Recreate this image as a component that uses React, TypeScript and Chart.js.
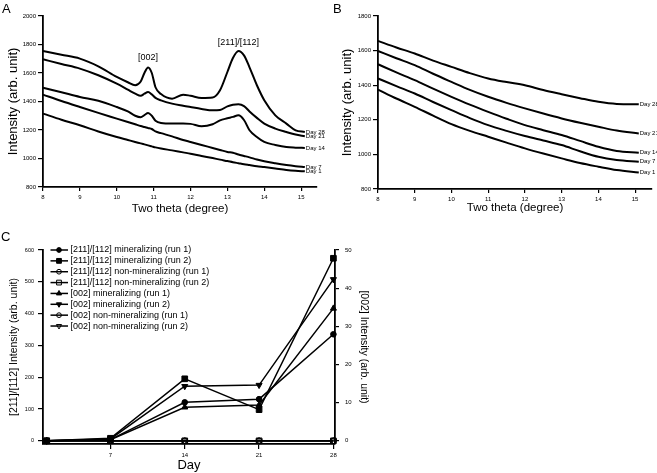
import React, { useEffect, useRef } from 'react';
import { Chart, registerables } from 'chart.js';
import { drawPoint } from 'chart.js/helpers';

Chart.register(...registerables);

const FONT = '"Liberation Sans", Arial, Helvetica, sans-serif';

// ---------- Panel A (mineralizing) ----------
const thetaA = [8, 8.5, 9, 9.5, 10, 10.3, 10.5, 10.65, 10.75, 10.85, 10.95, 11.05, 11.2, 11.5, 11.8, 12.0, 12.3, 12.6, 12.8, 13.0, 13.15, 13.3, 13.45, 13.6, 13.8, 14.0, 14.3, 14.6, 14.85, 15.1];
const aDay28 = [1754, 1728, 1701, 1647, 1572, 1535, 1514, 1540, 1600, 1638, 1600, 1500, 1452, 1420, 1448, 1440, 1425, 1428, 1479, 1607, 1705, 1754, 1724, 1640, 1514, 1409, 1303, 1245, 1198, 1186];
const aDay21 = [1696, 1663, 1631, 1584, 1525, 1483, 1455, 1440, 1455, 1467, 1450, 1425, 1408, 1385, 1370, 1361, 1348, 1338, 1340, 1366, 1377, 1380, 1368, 1330, 1285, 1245, 1210, 1186, 1168, 1156];
const aDay14 = [1497, 1465, 1432, 1405, 1361, 1330, 1300, 1290, 1305, 1319, 1300, 1265, 1249, 1245, 1245, 1243, 1226, 1240, 1268, 1282, 1292, 1303, 1270, 1198, 1151, 1116, 1095, 1080, 1076, 1074];
const aDay7 = [1448, 1403, 1361, 1320, 1280, 1256, 1240, 1228, 1221, 1214, 1207, 1190, 1178, 1155, 1130, 1116, 1095, 1074, 1060, 1046, 1040, 1028, 1018, 1008, 993, 980, 966, 954, 946, 940];
const aDay1 = [1315, 1272, 1233, 1190, 1151, 1130, 1116, 1106, 1099, 1092, 1085, 1078, 1070, 1057, 1043, 1034, 1018, 1003, 992, 982, 974, 967, 960, 954, 946, 940, 930, 920, 914, 910];
const peakLabels = ['[002]', '[211]/[112]'];
const peakTheta = [10.85, 13.3];
const peakLabelIntensity = [1712, 1815];

// ---------- Panel B (non-mineralizing) ----------
const thetaB = [8, 8.5, 9, 9.5, 10, 10.5, 11, 11.5, 12, 12.5, 13, 13.5, 14, 14.5, 15.1];
const bDay28 = [1656, 1618, 1583, 1542, 1506, 1470, 1439, 1418, 1400, 1372, 1348, 1325, 1304, 1292, 1290];
const bDay21 = [1598, 1556, 1516, 1466, 1419, 1373, 1333, 1298, 1266, 1236, 1208, 1183, 1160, 1138, 1121];
const bDay14 = [1521, 1474, 1429, 1380, 1333, 1288, 1246, 1206, 1169, 1140, 1112, 1078, 1044, 1020, 1010];
const bDay7 = [1439, 1395, 1352, 1303, 1256, 1210, 1169, 1136, 1106, 1080, 1054, 1018, 986, 968, 958];
const bDay1 = [1375, 1323, 1275, 1224, 1175, 1136, 1102, 1068, 1035, 1005, 977, 950, 929, 910, 896];

const dayNames = ['Day 28', 'Day 21', 'Day 14', 'Day 7', 'Day 1'];

// tick labels
const thetaTicks = [8, 9, 10, 11, 12, 13, 14, 15];
const aIntensityTicks = [800, 1000, 1200, 1400, 1600, 1800, 2000];
const bIntensityTicks = [800, 1000, 1200, 1400, 1600, 1800];

// ---------- Panel C ----------
const days = [1, 7, 14, 21, 28];
const dayTicks = [7, 14, 21, 28];
const leftTicksC = [0, 100, 200, 300, 400, 500, 600];
const rightTicksC = [0, 10, 20, 30, 40, 50];
const hkMinRun1 = [0, 4, 121, 131, 335];
const hkMinRun2 = [0, 8, 195, 98, 574];
const hkNonRun1 = [0, 0, 0, 0, 0];
const hkNonRun2 = [0, 0, 0, 0, 0];
const c002MinRun1 = [0, 0.3, 8.8, 9.4, 34.7];
const c002MinRun2 = [0, 0.5, 14.3, 14.6, 42.3];
const c002NonRun1 = [0, 0, 0, 0, 0];
const c002NonRun2 = [0, 0, 0, 0, 0];
const cLabels = [
  '[211]/[112] mineralizing (run 1)',
  '[211]/[112] mineralizing (run 2)',
  '[211]/[112] non-mineralizing (run 1)',
  '[211]/[112] non-mineralizing (run 2)',
  '[002] mineralizing (run 1)',
  '[002] mineralizing (run 2)',
  '[002] non-mineralizing (run 1)',
  '[002] non-mineralizing (run 2)',
];

const setTicks = (values: number[]) => (s: any) => {
  s.ticks = values.map((v) => ({ value: v }));
};
const plainLabel = (v: any) => String(v);

const endLabelsPlugin = {
  id: 'endLabels',
  afterDatasetsDraw(chart: any) {
    const ctx = chart.ctx;
    ctx.save();
    ctx.font = `6px ${FONT}`;
    ctx.fillStyle = '#000';
    ctx.textBaseline = 'middle';
    ctx.textAlign = 'left';
    chart.data.datasets.forEach((ds: any, i: number) => {
      const meta = chart.getDatasetMeta(i);
      const last = meta.data[meta.data.length - 1];
      ctx.fillText(ds.label, last.x + 1, last.y);
    });
    ctx.restore();
  },
};

const peakLabelPlugin = {
  id: 'peakLabels',
  afterDatasetsDraw(chart: any) {
    const ctx = chart.ctx;
    const xs = chart.scales.x;
    const ys = chart.scales.y;
    ctx.save();
    ctx.font = `9px ${FONT}`;
    ctx.fillStyle = '#000';
    ctx.textAlign = 'center';
    ctx.textBaseline = 'middle';
    peakLabels.forEach((t, i) => {
      ctx.fillText(t, xs.getPixelForValue(peakTheta[i]), ys.getPixelForValue(peakLabelIntensity[i]));
    });
    ctx.restore();
  },
};

const legendPlugin = {
  id: 'cLegend',
  afterDraw(chart: any) {
    const ctx = chart.ctx;
    const { left, top } = chart.chartArea;
    ctx.save();
    chart.data.datasets.forEach((ds: any, i: number) => {
      const y = top + i * 10.86;
      ctx.strokeStyle = '#000';
      ctx.lineWidth = 1.5;
      ctx.beginPath();
      ctx.moveTo(left + 7.5, y);
      ctx.lineTo(left + 25, y);
      ctx.stroke();
      ctx.fillStyle = ds.pointBackgroundColor;
      ctx.strokeStyle = '#000';
      ctx.lineWidth = 1;
      drawPoint(ctx, { pointStyle: ds.pointStyle, rotation: ds.pointRotation, radius: ds.pointRadius * 0.85, borderWidth: 1 } as any, left + 16, y);
      ctx.fillStyle = '#000';
      ctx.font = `9px ${FONT}`;
      ctx.textBaseline = 'middle';
      ctx.textAlign = 'left';
      ctx.fillText(ds.label, left + 27.5, y);
    });
    ctx.restore();
  },
};

function xrdDatasets(theta: number[], series: number[][]) {
  return series.map((s, k) => ({
    label: dayNames[k],
    data: theta.map((t, i) => ({ x: t, y: s[i] })),
    borderColor: '#000',
    borderWidth: 2,
    pointRadius: 0,
    cubicInterpolationMode: 'monotone',
    fill: false,
    clip: false,
  }));
}

function axisCommon(tickSize: number, tickLength: number, padding: number) {
  return {
    border: { display: true, color: '#000', width: 1.8 },
    grid: { display: true, drawOnChartArea: false, drawTicks: true, tickLength, color: '#000', lineWidth: 1.2 },
    ticks: { color: '#000', font: { family: FONT, size: tickSize }, padding, callback: plainLabel },
  };
}

function xrdOptions(opts: any) {
  const c1 = axisCommon(6, 4, 3);
  const c2 = axisCommon(6, 5, 2);
  return {
    responsive: false,
    animation: false,
    layout: { padding: opts.padding },
    plugins: { legend: { display: false }, tooltip: { enabled: false } },
    scales: {
      x: {
        type: 'linear',
        min: 8,
        max: opts.xMax,
        ...c1,
        ticks: { ...c1.ticks, maxRotation: 0, autoSkip: false },
        afterBuildTicks: setTicks(thetaTicks),
        afterFit: (s: any) => { s.height = opts.xHeight; },
        title: { display: true, text: 'Two theta (degree)', color: '#000', font: { family: FONT, size: 11.5 }, padding: { top: 0, bottom: opts.xTitlePad } },
      },
      y: {
        type: 'linear',
        min: 800,
        max: opts.yMax,
        ...c2,
        ticks: { ...c2.ticks, autoSkip: false },
        afterBuildTicks: setTicks(opts.yTicks),
        afterFit: (s: any) => { s.width = opts.yWidth; },
        title: { display: true, text: 'Intensity (arb. unit)', color: '#000', font: { family: FONT, size: 13 }, padding: { top: opts.yTitlePad, bottom: 0 } },
      },
    },
  };
}

function cDataset(label: string, data: number[], axis: string, style: string, filled: boolean, rotation = 0) {
  return {
    label,
    data: days.map((d, i) => ({ x: d, y: data[i] })),
    yAxisID: axis,
    borderColor: '#000',
    borderWidth: 1.5,
    pointStyle: style,
    pointRotation: rotation,
    pointRadius: style === 'rect' ? 4 : style === 'triangle' ? 3.5 : 2.8,
    pointBackgroundColor: filled ? '#000' : 'rgba(255,255,255,0)',
    pointBorderColor: '#000',
    pointBorderWidth: 1,
    tension: 0,
    fill: false,
    clip: false,
  };
}

export default function App() {
  const refA = useRef<HTMLCanvasElement>(null);
  const refB = useRef<HTMLCanvasElement>(null);
  const refC = useRef<HTMLCanvasElement>(null);

  useEffect(() => {
    const chartA = new Chart(refA.current as HTMLCanvasElement, {
      type: 'line',
      data: { datasets: xrdDatasets(thetaA, [aDay28, aDay21, aDay14, aDay7, aDay1]) as any },
      options: xrdOptions({ padding: { top: 16, right: 13, left: 0, bottom: 0 }, xMax: 15.43, yMax: 2000, yTicks: aIntensityTicks, xHeight: 41, yWidth: 43, xTitlePad: 12, yTitlePad: 6 }) as any,
      plugins: [endLabelsPlugin, peakLabelPlugin],
    });

    const chartB = new Chart(refB.current as HTMLCanvasElement, {
      type: 'line',
      data: { datasets: xrdDatasets(thetaB, [bDay28, bDay21, bDay14, bDay7, bDay1]) as any },
      options: xrdOptions({ padding: { top: 16, right: 5, left: 0, bottom: 0 }, xMax: 15.46, yMax: 1800, yTicks: bIntensityTicks, xHeight: 41, yWidth: 48, xTitlePad: 15.5, yTitlePad: 10 }) as any,
      plugins: [endLabelsPlugin],
    });

    const cx = axisCommon(6, 5, 3);
    const cy = axisCommon(5.5, 5, 4);
    const cy1 = axisCommon(6, 4, 6);
    const chartC = new Chart(refC.current as HTMLCanvasElement, {
      type: 'line',
      data: {
        datasets: [
          cDataset(cLabels[0], hkMinRun1, 'y', 'circle', true),
          cDataset(cLabels[1], hkMinRun2, 'y', 'rect', true),
          cDataset(cLabels[2], hkNonRun1, 'y', 'circle', false),
          cDataset(cLabels[3], hkNonRun2, 'y', 'rect', false),
          cDataset(cLabels[4], c002MinRun1, 'y1', 'triangle', true),
          cDataset(cLabels[5], c002MinRun2, 'y1', 'triangle', true, 180),
          cDataset(cLabels[6], c002NonRun1, 'y1', 'circle', false),
          cDataset(cLabels[7], c002NonRun2, 'y1', 'triangle', false, 180),
        ] as any,
      },
      options: {
        responsive: false,
        animation: false,
        layout: { padding: { top: 20, right: 0, left: 0, bottom: 0 } },
        plugins: { legend: { display: false }, tooltip: { enabled: false } },
        scales: {
          x: {
            type: 'linear',
            min: 0.65,
            max: 28.15,
            ...cx,
            ticks: { ...cx.ticks, maxRotation: 0, autoSkip: false },
            afterBuildTicks: setTicks(dayTicks),
            afterFit: (s: any) => { s.height = 29; },
            title: { display: true, text: 'Day', color: '#000', font: { family: FONT, size: 13 }, padding: { top: 0, bottom: 0 } },
          },
          y: {
            type: 'linear',
            position: 'left',
            min: -10,
            max: 600,
            ...cy,
            ticks: { ...cy.ticks, autoSkip: false },
            afterBuildTicks: setTicks(leftTicksC),
            afterFit: (s: any) => { s.width = 43; },
            title: { display: true, text: '[211]/[112] Intensity (arb. unit)', color: '#000', font: { family: FONT, size: 10.5 }, padding: { top: 7.7, bottom: 0 } },
          },
          y1: {
            type: 'linear',
            position: 'right',
            min: -10 / 12,
            max: 50,
            ...cy1,
            ticks: { ...cy1.ticks, autoSkip: false },
            afterBuildTicks: setTicks(rightTicksC),
            afterFit: (s: any) => { s.width = 45; },
            title: { display: true, text: '[002] Intensity (arb. unit)', color: '#000', font: { family: FONT, size: 10.5 }, padding: { top: 9.7, bottom: 0 } },
          },
        },
      } as any,
      plugins: [legendPlugin],
    });

    return () => {
      chartA.destroy();
      chartB.destroy();
      chartC.destroy();
    };
  }, []);

  const panelLabel = (text: string, left: number, top: number) => (
    <div style={{ position: 'absolute', left, top, fontFamily: FONT, fontSize: 13, lineHeight: '12px', color: '#000' }}>{text}</div>
  );

  return (
    <div style={{ position: 'absolute', left: 0, top: 0, width: 657, height: 473, background: '#fff', overflow: 'hidden' }}>
      <canvas ref={refA} width={330} height={228} style={{ position: 'absolute', left: 0, top: 0 }} />
      <canvas ref={refB} width={327} height={230} style={{ position: 'absolute', left: 330, top: 0 }} />
      <canvas ref={refC} width={380} height={243} style={{ position: 'absolute', left: 0, top: 230 }} />
      {panelLabel('A', 2, 3)}
      {panelLabel('B', 333, 2.6)}
      {panelLabel('C', 1, 231)}
    </div>
  );
}
